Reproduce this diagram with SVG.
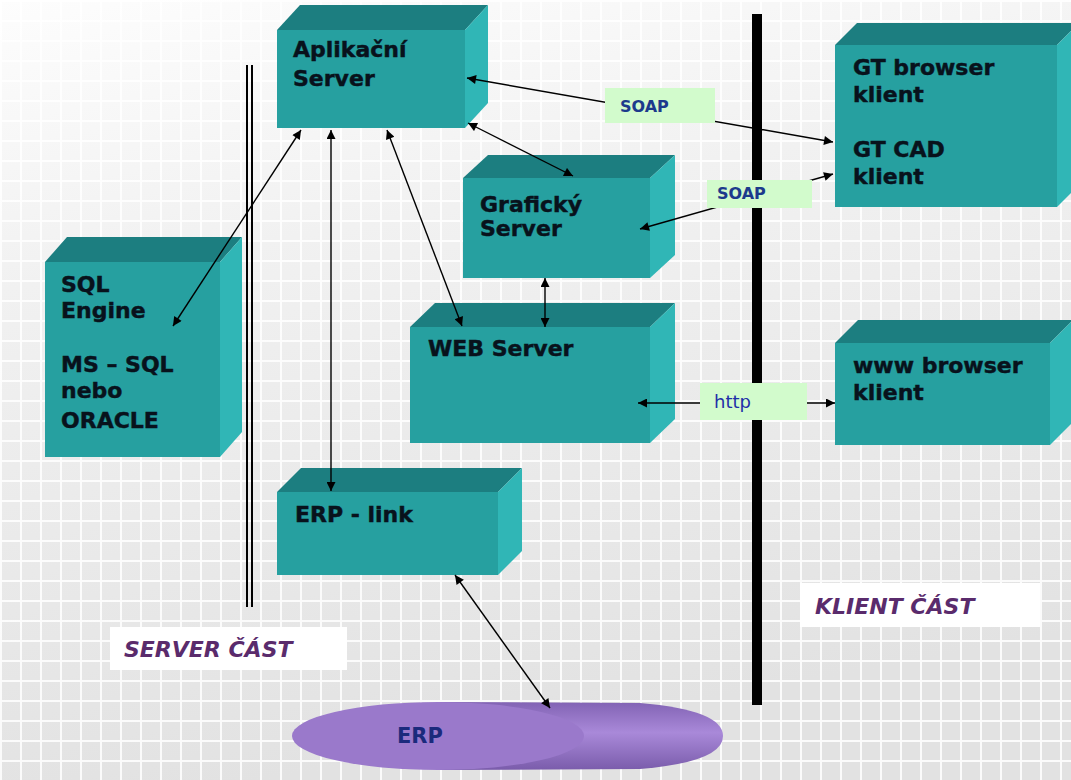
<svg xmlns="http://www.w3.org/2000/svg" width="1071" height="780" viewBox="0 0 1071 780">
  <defs>
    <linearGradient id="bgGrad" x1="0" y1="0" x2="0.25" y2="1">
      <stop offset="0" stop-color="#fdfdfd"/>
      <stop offset="0.35" stop-color="#f1f1f1"/>
      <stop offset="1" stop-color="#e2e2e2"/>
    </linearGradient>
    <pattern id="grid" width="20" height="20" patternUnits="userSpaceOnUse">
      <path d="M0 1 H20 M1 0 V20" stroke="#ffffff" stroke-width="2" stroke-opacity="0.85" fill="none"/>
    </pattern>
    <linearGradient id="erpBody" x1="0" y1="0" x2="0" y2="1">
      <stop offset="0" stop-color="#8263b4"/>
      <stop offset="0.45" stop-color="#a989d9"/>
      <stop offset="1" stop-color="#7a5cab"/>
    </linearGradient>
    <marker id="arr" viewBox="0 0 10 10" refX="10" refY="5" markerWidth="12" markerHeight="9" markerUnits="userSpaceOnUse" orient="auto-start-reverse">
      <path d="M0 0 L10 5 L0 10 Z" fill="#000"/>
    </marker>
    <style>
      .front { fill: #26a0a0; }
      .top { fill: #1c7e80; }
      .side { fill: #30b6b6; }
      .lbl { font-family: "DejaVu Sans", Verdana, sans-serif; font-weight: bold; font-size: 22px; fill: #08121c; stroke: #08121c; stroke-width: 0.45; }
      .conn { stroke: #000; stroke-width: 1.4; fill: none; marker-start: url(#arr); marker-end: url(#arr); }
      .tag { fill: #d2fbcc; }
      .tagtxt { font-family: "DejaVu Sans", Verdana, sans-serif; font-weight: bold; font-size: 16px; fill: #1c3a8c; }
      .part { font-family: "DejaVu Sans", Verdana, sans-serif; font-weight: bold; font-style: italic; font-size: 22px; fill: #5a2b6c; }
    </style>
  </defs>

  <!-- background with grid -->
  <rect x="0" y="0" width="1071" height="780" fill="url(#bgGrad)"/>
  <rect x="0" y="0" width="1071" height="780" fill="url(#grid)"/>

  <!-- server / client separators -->
  <g id="separators">
    <line x1="247" y1="65" x2="247" y2="607" stroke="#000" stroke-width="2"/>
    <line x1="252" y1="65" x2="252" y2="607" stroke="#000" stroke-width="2"/>
    <line x1="757" y1="14" x2="757" y2="705" stroke="#000" stroke-width="10"/>
  </g>

  <!-- Aplikační Server -->
  <g id="aplikacni-server">
    <polygon class="top" points="277,30 300,5 488,5 465,30"/>
    <polygon class="side" points="465,30 488,5 488,103 465,128"/>
    <rect class="front" x="277" y="30" width="188" height="98"/>
    <text class="lbl" x="293" y="57">Aplikační</text>
    <text class="lbl" x="293" y="86">Server</text>
  </g>

  <!-- SQL Engine -->
  <g id="sql-engine">
    <polygon class="top" points="45,262 67,237 242,237 220,262"/>
    <polygon class="side" points="220,262 242,237 242,432 220,457"/>
    <rect class="front" x="45" y="262" width="175" height="195"/>
    <text class="lbl" x="61" y="292">SQL</text>
    <text class="lbl" x="61" y="318">Engine</text>
    <text class="lbl" x="61" y="372">MS – SQL</text>
    <text class="lbl" x="61" y="398">nebo</text>
    <text class="lbl" x="61" y="428">ORACLE</text>
  </g>

  <!-- Grafický Server -->
  <g id="graficky-server">
    <polygon class="top" points="463,178 488,155 675,155 650,178"/>
    <polygon class="side" points="650,178 675,155 675,255 650,278"/>
    <rect class="front" x="463" y="178" width="187" height="100"/>
    <text class="lbl" x="480" y="212">Grafický</text>
    <text class="lbl" x="480" y="236">Server</text>
  </g>

  <!-- WEB Server -->
  <g id="web-server">
    <polygon class="top" points="410,327 435,303 675,303 650,327"/>
    <polygon class="side" points="650,327 675,303 675,419 650,443"/>
    <rect class="front" x="410" y="327" width="240" height="116"/>
    <text class="lbl" x="428" y="356">WEB Server</text>
  </g>

  <!-- ERP - link -->
  <g id="erp-link">
    <polygon class="top" points="277,492 301,468 522,468 498,492"/>
    <polygon class="side" points="498,492 522,468 522,551 498,575"/>
    <rect class="front" x="277" y="492" width="221" height="83"/>
    <text class="lbl" x="295" y="522">ERP - link</text>
  </g>

  <!-- GT browser / GT CAD klient -->
  <g id="gt-klient">
    <polygon class="top" points="835,45 857,23 1079,23 1057,45"/>
    <polygon class="side" points="1057,45 1079,23 1079,185 1057,207"/>
    <rect class="front" x="835" y="45" width="222" height="162"/>
    <text class="lbl" x="853" y="75">GT browser</text>
    <text class="lbl" x="853" y="102">klient</text>
    <text class="lbl" x="853" y="157">GT CAD</text>
    <text class="lbl" x="853" y="184">klient</text>
  </g>

  <!-- www browser klient -->
  <g id="www-klient">
    <polygon class="top" points="835,343 858,320 1073,320 1050,343"/>
    <polygon class="side" points="1050,343 1073,320 1073,422 1050,445"/>
    <rect class="front" x="835" y="343" width="215" height="102"/>
    <text class="lbl" x="853" y="373">www browser</text>
    <text class="lbl" x="853" y="400">klient</text>
  </g>

  <!-- ERP cylinder -->
  <g id="erp">
    <path d="M438,702 L640,703 Q723,710 723,736 Q723,762 640,769 L438,770 Z" fill="url(#erpBody)"/>
    <ellipse cx="438" cy="736" rx="146" ry="34" fill="#9a79cb"/>
    <text x="397" y="743" font-family="DejaVu Sans, Verdana, sans-serif" font-weight="bold" font-size="21" fill="#1b2a7c">ERP</text>
  </g>

  <!-- connectors -->
  <g id="connectors">
    <line class="conn" x1="467" y1="78" x2="833" y2="142"/>
    <line class="conn" x1="468" y1="123" x2="573" y2="176"/>
    <line class="conn" x1="640" y1="229" x2="833" y2="174"/>
    <line class="conn" x1="387" y1="130" x2="462" y2="326"/>
    <line class="conn" x1="301" y1="130" x2="173" y2="326"/>
    <line class="conn" x1="331" y1="130" x2="331" y2="491"/>
    <line class="conn" x1="545" y1="278" x2="545" y2="327"/>
    <line class="conn" x1="638" y1="403" x2="835" y2="403"/>
    <line class="conn" x1="455" y1="575" x2="550" y2="708"/>
  </g>

  <!-- protocol tags -->
  <g id="tag-soap-1">
    <rect class="tag" x="605" y="88" width="110" height="35"/>
    <text class="tagtxt" x="620" y="112">SOAP</text>
  </g>
  <g id="tag-soap-2">
    <rect class="tag" x="707" y="180" width="105" height="28"/>
    <text class="tagtxt" x="717" y="199">SOAP</text>
  </g>
  <g id="tag-http">
    <rect class="tag" x="700" y="383" width="107" height="37"/>
    <text x="714" y="408" font-family="DejaVu Sans, Verdana, sans-serif" font-size="18" fill="#1f2fa8">http</text>
  </g>

  <!-- side labels -->
  <g id="label-server">
    <rect x="110" y="627" width="237" height="43" fill="#ffffff"/>
    <text class="part" x="124" y="657">SERVER ČÁST</text>
  </g>
  <g id="label-klient">
    <rect x="800" y="583" width="240" height="44" fill="#ffffff"/>
    <text class="part" x="815" y="614">KLIENT ČÁST</text>
  </g>
</svg>
